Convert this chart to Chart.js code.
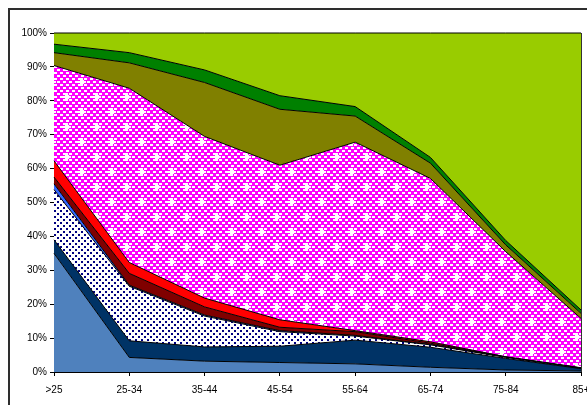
<!DOCTYPE html>
<html>
<head>
<meta charset="utf-8">
<script src="https://cdn.jsdelivr.net/npm/chart.js@4/dist/chart.umd.min.js"></script>
<style>
  html, body { margin: 0; padding: 0; background: #fff; }
  #wrap { width: 587px; height: 405px; position: relative; }
</style>
</head>
<body>
<div id="wrap"><canvas id="c" width="587" height="405"></canvas></div>
<script>
const categories = ['>25', '25-34', '35-44', '45-54', '55-64', '65-74', '75-84', '85+'];
const lightBlue   = [35.0, 4.3, 3.2, 2.8, 2.4, 1.4, 0.6, 0.3];
const navy        = [4.0, 4.9, 4.2, 4.8, 7.0, 5.9, 3.4, 0.7];
const dotted      = [14.8, 16.1, 9.1, 4.3, 1.2, 0.7, 0.3, 0.1];
const blue        = [1.7, 0.3, 0.3, 0.3, 0.2, 0.1, 0.05, 0.05];
const darkRed     = [2.0, 3.5, 2.4, 1.0, 1.1, 0.4, 0.1, 0.05];
const red         = [4.8, 3.2, 2.6, 2.2, 0.3, 0.4, 0.05, 0.05];
const magenta     = [28.1, 51.4, 47.7, 45.6, 55.6, 48.2, 31.0, 14.55];
const olive       = [3.8, 7.5, 15.9, 16.5, 7.7, 4.5, 2.0, 1.5];
const green       = [2.5, 3.0, 3.7, 4.0, 2.8, 1.7, 1.3, 1.0];
const yellowGreen = [3.3, 5.8, 10.9, 18.5, 21.7, 36.7, 61.2, 81.7];
const yTickValues = [0, 10, 20, 30, 40, 50, 60, 70, 80, 90, 100];

function makeDots() {
  const c = document.createElement('canvas');
  c.width = 6; c.height = 6;
  const g = c.getContext('2d');
  g.fillStyle = '#ffffff'; g.fillRect(0, 0, 6, 6);
  g.fillStyle = '#000080';
  g.fillRect(0, 0, 2, 2);
  g.fillRect(3, 3, 2, 2);
  return g.createPattern(c, 'repeat');
}
function makeChecker() {
  const cell = 3, n = 10, s = cell * n;
  const c = document.createElement('canvas');
  c.width = s; c.height = s;
  const g = c.getContext('2d');
  g.fillStyle = '#ff00ff';
  g.fillRect(0, 0, s, s);
  g.fillStyle = '#ffffff';
  for (let i = 0; i < n; i++) {
    for (let j = 0; j < n; j++) {
      if ((i + j) % 2 === 0) g.fillRect(i * cell, j * cell, 3, 2);
    }
  }
  const crosses = [[2, 2], [7, 7]];
  for (const [ci, cj] of crosses) {
    g.fillRect(ci * cell - 1, cj * cell - 1, 4, 4);
    g.fillRect(ci * cell - 3, cj * cell, 8, 2);
    g.fillRect(ci * cell, cj * cell - 3, 2, 8);
  }
  return g.createPattern(c, 'repeat');
}

const series = [
  { label: 'A', data: lightBlue, bg: '#4f81bd' },
  { label: 'B', data: navy, bg: '#003366' },
  { label: 'C', data: dotted, bg: makeDots() },
  { label: 'D', data: blue, bg: '#3366ff' },
  { label: 'E', data: darkRed, bg: '#800000' },
  { label: 'F', data: red, bg: '#ff0000' },
  { label: 'G', data: magenta, bg: makeChecker() },
  { label: 'H', data: olive, bg: '#808000' },
  { label: 'I', data: green, bg: '#008000' },
  { label: 'J', data: yellowGreen, bg: '#99cc00' }
];

const datasets = series.map((s, i) => ({
  label: s.label,
  data: s.data,
  backgroundColor: s.bg,
  borderColor: '#000000',
  borderWidth: 1,
  pointRadius: 0,
  pointHoverRadius: 0,
  tension: 0,
  fill: i === 0 ? 'origin' : '-1',
  clip: false
}));

const framePlugin = {
  id: 'frame',
  beforeDraw(chart) {
    const ctx = chart.ctx;
    ctx.save();
    ctx.fillStyle = '#ffffff';
    ctx.fillRect(0, 0, chart.width, chart.height);
    ctx.strokeStyle = '#2e2e2e';
    ctx.lineWidth = 2;
    ctx.strokeRect(9, 9, 700, 600);
    ctx.restore();
  },
  afterDatasetsDraw(chart) {
    const a = chart.chartArea;
    const ctx = chart.ctx;
    ctx.save();
    ctx.strokeStyle = '#333333';
    ctx.lineWidth = 1;
    ctx.beginPath();
    ctx.moveTo(Math.round(a.right) + 0.5, a.top);
    ctx.lineTo(Math.round(a.right) + 0.5, a.bottom);
    ctx.stroke();
    ctx.restore();
  }
};

Chart.defaults.font.family = '"Liberation Sans", Arial, sans-serif';
Chart.defaults.font.size = 10;
Chart.defaults.color = '#000000';

new Chart(document.getElementById('c'), {
  type: 'line',
  data: { labels: categories, datasets },
  options: {
    responsive: false,
    animation: false,
    events: [],
    layout: { padding: { left: 0, right: 6, top: 33, bottom: 0 } },
    plugins: { legend: { display: false }, tooltip: { enabled: false } },
    scales: {
      x: {
        offset: false,
        grid: { display: true, drawOnChartArea: false, tickLength: 4, color: '#000000' },
        border: { display: true, color: '#000000', width: 1 },
        ticks: { autoSkip: false, maxRotation: 0, minRotation: 0, padding: 8, color: '#000000' },
        afterFit(scale) { scale.height = 33; scale.paddingLeft = 0; scale.paddingRight = 0; }
      },
      y: {
        stacked: true,
        min: 0, max: 100,
        afterBuildTicks(scale) { scale.ticks = yTickValues.map(v => ({ value: v })); },
        grid: { display: true, drawOnChartArea: false, tickLength: 4, color: '#000000' },
        border: { display: true, color: '#000000', width: 1 },
        ticks: { padding: 3, color: '#000000', callback: v => v + '%' },
        afterFit(scale) { scale.width = 54; scale.paddingTop = 0; scale.paddingBottom = 0; }
      }
    }
  },
  plugins: [framePlugin]
});
</script>
</body>
</html>
